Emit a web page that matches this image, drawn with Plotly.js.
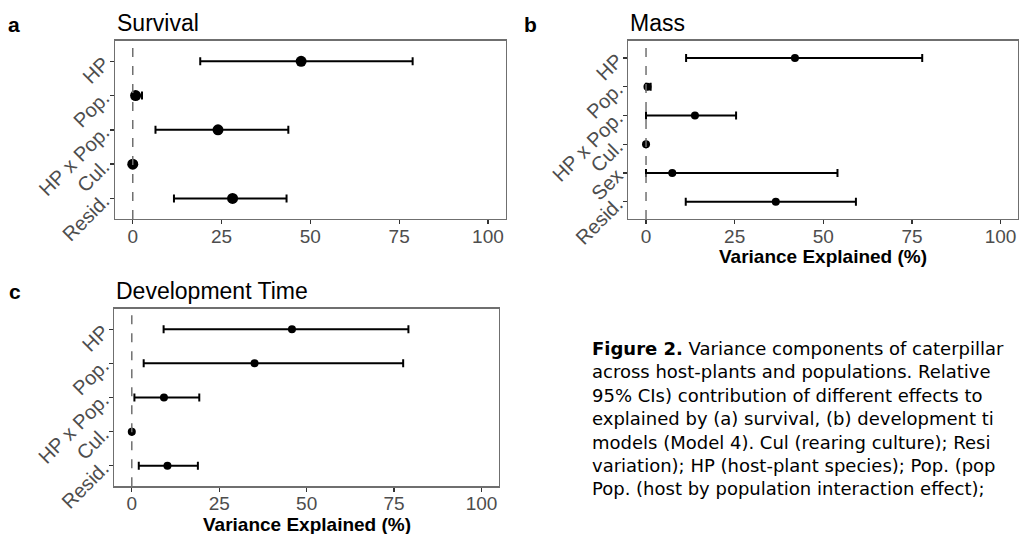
<!DOCTYPE html>
<html>
<head>
<meta charset="utf-8">
<script src="https://cdn.plot.ly/plotly-3.0.1.min.js"></script>
<style>html,body{margin:0;padding:0;background:#fff;}#chart{width:1019px;height:534px;}</style>
</head>
<body>
<div id="chart"></div>
<script>
// ---- Data ----
const catsA = ['HP', 'Pop.', 'HP x Pop.', 'Cul.', 'Resid.'];
const estA = [47.4, 0.8, 24.0, 0, 28.1];
const loA  = [19.0, 0, 6.4, 0, 11.6];
const hiA  = [78.8, 2.6, 43.8, 0, 43.3];

const catsB = ['HP', 'Pop.', 'HP x Pop.', 'Cul.', 'Sex', 'Resid.'];
const estB = [42.0, 0.4, 13.8, 0, 7.4, 36.6];
const loB  = [11.3, 0, 0, 0, 0, 11.2];
const hiB  = [77.9, 1.3, 25.4, 0, 54.0, 59.2];

const catsC = ['HP', 'Pop.', 'HP x Pop.', 'Cul.', 'Resid.'];
const estC = [45.8, 35.1, 9.2, 0, 10.2];
const loC  = [9.1, 3.4, 0.75, 0, 2.0];
const hiC  = [79.1, 77.6, 19.3, 0, 18.9];

const xTicks = [0, 25, 50, 75, 100];
const panelTitles = ['Survival', 'Mass', 'Development Time'];
const panelLetters = ['a', 'b', 'c'];
const xTitle = 'Variance Explained (%)';
const captionLines = [
  '<b>Figure 2.</b> Variance components of caterpillar',
  'across host-plants and populations. Relative',
  '95% CIs) contribution of different effects to',
  'explained by (a) survival, (b) development ti',
  'models (Model 4). Cul (rearing culture); Resi',
  'variation); HP (host-plant species); Pop. (pop',
  'Pop. (host by population interaction effect);'
];

// ---- Helpers ----
const W = 1019, H = 534;
const px = v => v / W;
const py = v => 1 - v / H;
const FONT = 'Liberation Sans, Arial, sans-serif';

function trace(cats, est, lo, hi, xa, ya, msize, thick) {
  return {
    type: 'scatter', mode: 'markers',
    x: est, y: cats, xaxis: xa, yaxis: ya,
    marker: {color: '#000', size: msize},
    error_x: {
      type: 'data', symmetric: false,
      array: hi.map((h, i) => h - est[i]),
      arrayminus: lo.map((l, i) => est[i] - l),
      color: '#000', thickness: thick, width: 4
    },
    hoverinfo: 'skip', showlegend: false
  };
}

function xaxisDef(domain, anchor) {
  return {
    domain: domain, anchor: anchor, range: [-5, 105],
    tickvals: xTicks, ticktext: xTicks.map(String),
    showgrid: false, zeroline: false,
    showline: true, mirror: true, linecolor: '#6f6f6f', linewidth: 1.3,
    ticks: 'outside', ticklen: 4, tickcolor: '#333', tickwidth: 1.3,
    ticklabelstandoff: -4,
    tickfont: {family: FONT, size: 19, color: '#4d4d4d'},
    fixedrange: true
  };
}

function yaxisDef(domain, anchor, cats) {
  return {
    domain: domain, anchor: anchor, type: 'category',
    categoryorder: 'array', categoryarray: cats,
    range: [cats.length - 0.4, -0.6],
    showgrid: false, zeroline: false,
    showline: true, mirror: true, linecolor: '#6f6f6f', linewidth: 1.3,
    ticks: 'outside', ticklen: 4, tickcolor: '#333', tickwidth: 1.3,
    tickangle: -45, ticklabelstandoff: 2,
    tickfont: {family: FONT, size: 20, color: '#4d4d4d'},
    fixedrange: true
  };
}

const data = [
  trace(catsA, estA, loA, hiA, 'x', 'y', 11, 2),
  trace(catsB, estB, loB, hiB, 'x2', 'y2', 8, 2),
  trace(catsC, estC, loC, hiC, 'x3', 'y3', 8, 2)
];

const domA = {x: [px(115), px(505.7)], y: [py(219), py(40.7)]};
const domB = {x: [px(628.3), px(1018.3)], y: [py(219), py(40.7)]};
const domC = {x: [px(114.3), px(499)], y: [py(486.3), py(308.7)]};

const shapes = ['x', 'x2', 'x3'].map((xa, i) => ({
  type: 'line', xref: xa, yref: ['y', 'y2', 'y3'][i] + ' domain',
  x0: 0, x1: 0, y0: 0, y1: 1,
  line: {color: '#707070', width: 1.5, dash: 'dash'}
}));

const annotations = [];
const titlePos = [[115, 23], [628.3, 23], [114.3, 291]];
const letterPos = [[14, 24], [530, 24], [15, 291]];
for (let i = 0; i < 3; i++) {
  annotations.push({
    text: panelTitles[i], xref: 'paper', yref: 'paper',
    x: px(titlePos[i][0]), y: py(titlePos[i][1]), xanchor: 'left', yanchor: 'middle',
    showarrow: false, font: {family: FONT, size: 23, color: '#000'}
  });
  annotations.push({
    text: '<b>' + panelLetters[i] + '</b>', xref: 'paper', yref: 'paper',
    x: px(letterPos[i][0]), y: py(letterPos[i][1]), xanchor: 'center', yanchor: 'middle',
    showarrow: false, font: {family: FONT, size: 21, color: '#000'}
  });
}
// x-axis titles (panels b and c)
[[823.3, 256], [306.6, 524]].forEach(p => {
  annotations.push({
    text: '<b>' + xTitle + '</b>', xref: 'paper', yref: 'paper',
    x: px(p[0]), y: py(p[1]), xanchor: 'center', yanchor: 'middle',
    showarrow: false, font: {family: FONT, size: 19, color: '#000'}
  });
});
// caption as one multi-line text block
annotations.push({
  text: captionLines.join('<br>'), xref: 'paper', yref: 'paper',
  x: px(590), y: py(418), xanchor: 'left', yanchor: 'middle', align: 'left',
  showarrow: false, font: {family: 'DejaVu Sans, sans-serif', size: 18, color: '#000'}
});

const layout = {
  width: W, height: H,
  margin: {l: 0, r: 0, t: 0, b: 0, pad: 0},
  paper_bgcolor: '#fff', plot_bgcolor: '#fff',
  showlegend: false,
  xaxis: xaxisDef(domA.x, 'y'),
  yaxis: yaxisDef(domA.y, 'x', catsA),
  xaxis2: xaxisDef(domB.x, 'y2'),
  yaxis2: yaxisDef(domB.y, 'x2', catsB),
  xaxis3: xaxisDef(domC.x, 'y3'),
  yaxis3: yaxisDef(domC.y, 'x3', catsC),
  shapes: shapes,
  annotations: annotations
};

Plotly.newPlot('chart', data, layout, {displayModeBar: false, staticPlot: true});
</script>
</body>
</html>
